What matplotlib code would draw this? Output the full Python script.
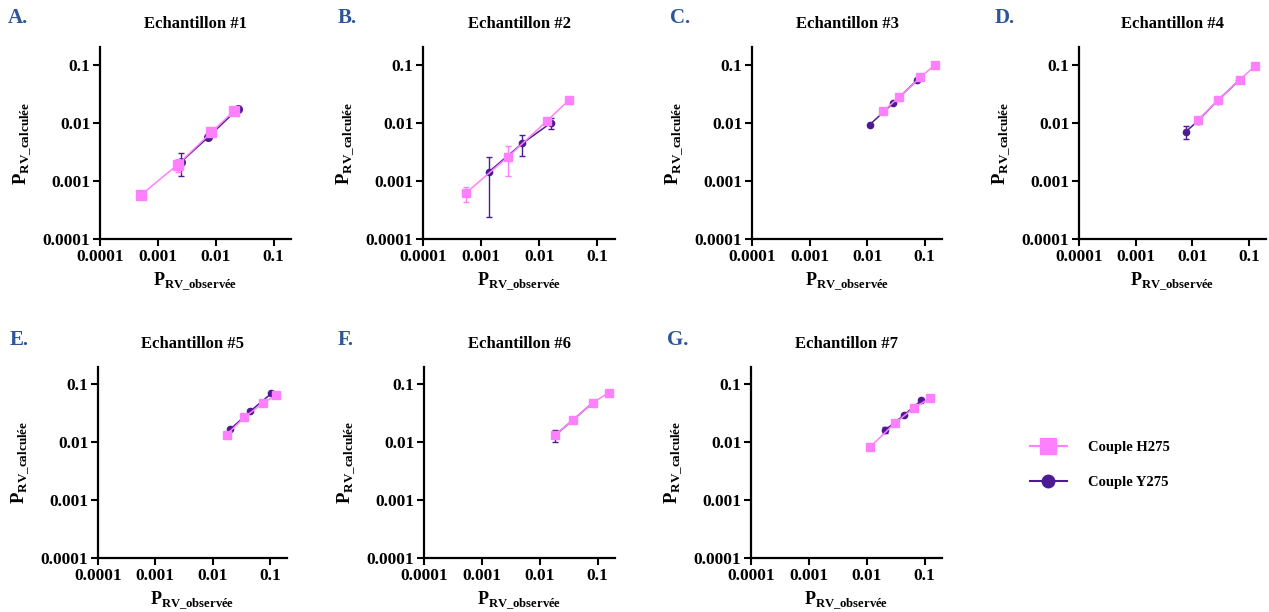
import numpy as np
import matplotlib
matplotlib.use("Agg")
import matplotlib.pyplot as plt
from matplotlib.lines import Line2D

plt.rcParams['font.family'] = ['Liberation Serif', 'DejaVu Serif']
plt.rcParams['font.weight'] = 'bold'
plt.rcParams['mathtext.fontset'] = 'custom'
plt.rcParams['mathtext.bf'] = 'Liberation Serif:bold'
plt.rcParams['mathtext.rm'] = 'Liberation Serif:bold'

titres = ["Echantillon #1", "Echantillon #2", "Echantillon #3", "Echantillon #4",
          "Echantillon #5", "Echantillon #6", "Echantillon #7"]
lettres = ["A.", "B.", "C.", "D.", "E.", "F.", "G."]

# Couple H275
h_obs = [[0.00052, 0.0022, 0.0084, 0.0203],
         [0.00054, 0.0029, 0.0135, 0.0318],
         [0.019, 0.036, 0.084, 0.153],
         [0.0124, 0.0283, 0.069, 0.126],
         [0.0178, 0.036, 0.075, 0.131],
         [0.0182, 0.0377, 0.082, 0.156],
         [0.0113, 0.0306, 0.065, 0.124]]
h_calc = [[0.00058, 0.0019, 0.0068, 0.0157],
          [0.00061, 0.0026, 0.0107, 0.0241],
          [0.0156, 0.0276, 0.060, 0.100],
          [0.0109, 0.0242, 0.055, 0.0925],
          [0.0136, 0.027, 0.047, 0.0655],
          [0.0131, 0.0244, 0.048, 0.072],
          [0.0082, 0.0213, 0.039, 0.058]]
h_sd = [[0, 0.0005, 0, 0],
        [0.00018, 0.0014, 0, 0],
        [0, 0.004, 0, 0],
        [0.0015, 0, 0, 0],
        [0, 0, 0, 0],
        [0, 0, 0, 0],
        [0, 0, 0, 0]]

# Couple Y275
y_obs = [[0.0025, 0.0075, 0.0244],
         [0.00134, 0.0051, 0.0158],
         [0.0112, 0.0287, 0.074],
         [0.0077, 0.0124, 0.028, 0.068],
         [0.0203, 0.046, 0.107],
         [0.0182, 0.0377, 0.082],
         [0.0211, 0.0438, 0.0875]]
y_calc = [[0.0021, 0.0057, 0.0175],
          [0.00141, 0.0044, 0.0099],
          [0.0093, 0.022, 0.054],
          [0.0070, 0.0106, 0.024, 0.054],
          [0.0167, 0.0346, 0.070],
          [0.0131, 0.0244, 0.048],
          [0.0164, 0.0294, 0.0528]]
y_sd = [[0.0009, 0, 0],
        [0.00117, 0.0017, 0.002],
        [0, 0, 0],
        [0.0017, 0, 0, 0],
        [0, 0, 0],
        [0.003, 0, 0],
        [0.0022, 0, 0]]

rose = '#FF80FF'
violet = '#4E1A94'
bleu = '#2E5597'

W, H = 1269, 612
fig = plt.figure(figsize=(W / 100, H / 100), dpi=100)

# positions en pixels (gauche, haut, droite, bas)
boites = [(100, 47, 291, 239), (423, 47, 615, 239), (752, 47, 942, 239), (1079, 47, 1266, 239),
          (98, 367, 287, 558), (424, 367, 615, 558), (751, 367, 942, 558)]
pos_lettres = [(8, 18), (338, 18), (670, 18), (995, 18), (10, 340), (338, 340), (667, 340)]

for i in range(7):
    g, t, d, b = boites[i]
    ax = fig.add_axes([g / W, (H - b) / H, (d - g) / W, (b - t) / H])
    grand = (i == 0)
    ms_h = 7 if grand else 5.2
    ms_y = 5.5 if grand else 4.5

    ax.errorbar(y_obs[i], y_calc[i], yerr=y_sd[i], color=violet, marker='o', ms=ms_y,
                lw=1.1, elinewidth=1.0, capsize=2.5, capthick=1.0, zorder=2)
    ax.errorbar(h_obs[i], h_calc[i], yerr=h_sd[i], color=rose, marker='s', ms=ms_h,
                lw=1.1, elinewidth=1.0, capsize=2.5, capthick=1.0, zorder=3)

    ax.set_xscale('log')
    ax.set_yscale('log')
    ax.set_xlim(1e-4, 0.2)
    ax.set_ylim(1e-4, 0.2)
    ticks = [0.0001, 0.001, 0.01, 0.1]
    labels = ['0.0001', '0.001', '0.01', '0.1']
    ax.set_xticks(ticks)
    ax.set_xticklabels(labels)
    ax.set_yticks(ticks)
    ax.set_yticklabels(labels)
    ax.minorticks_off()
    ax.tick_params(direction='out', length=5, width=1.5, labelsize=12.5, pad=2)
    for s in ['top', 'right']:
        ax.spines[s].set_visible(False)
    for s in ['left', 'bottom']:
        ax.spines[s].set_linewidth(1.6)

    ax.set_xlabel(r'$\mathbf{P}_{\mathbf{RV\_observée}}$', fontsize=13, labelpad=4)
    ax.set_ylabel(r'$\mathbf{P}_{\mathbf{RV\_calculée}}$', fontsize=13.5, labelpad=6)
    ax.set_title(titres[i], fontsize=12, fontweight='bold', pad=14)

    lx, ly = pos_lettres[i]
    fig.text(lx / W, 1 - ly / H, lettres[i], color=bleu, fontsize=15, fontweight='bold',
             va='center', ha='left')

poignees = [Line2D([], [], color=rose, marker='s', ms=11, lw=1.5),
            Line2D([], [], color=violet, marker='o', ms=9, lw=1.5)]
fig.legend(poignees, ['Couple H275', 'Couple Y275'], loc='center left',
           bbox_to_anchor=(1017 / W, 1 - 465 / H), frameon=False, fontsize=10.5,
           handlelength=2.5, handletextpad=1.45, labelspacing=1.45)

fig.savefig('out.png', dpi=100)
